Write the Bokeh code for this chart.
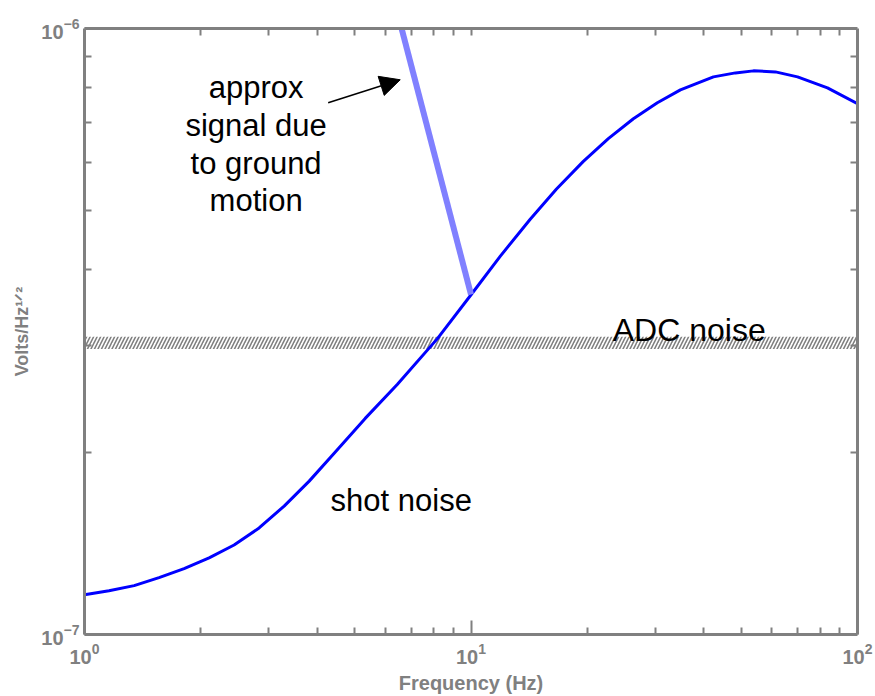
from bokeh.plotting import figure
from bokeh.models import (LogAxis, FixedTicker, LogTickFormatter, Label, Arrow,
                          NormalHead, Range1d)
from bokeh.embed import file_html
from bokeh.resources import INLINE

# ---------------- data ----------------
freq_hz = [1.0, 1.157, 1.344, 1.559, 1.810, 2.101, 2.438, 2.830, 3.285,
           3.814, 4.426, 5.324, 6.444, 8.177, 10.13, 11.91, 14.23, 16.62,
           19.53, 22.66, 26.31, 30.35, 34.82, 42.39, 48.32, 53.80, 61.34,
           69.95, 83.61, 100.0]
shot_noise = [1.163e-7, 1.181e-7, 1.204e-7, 1.241e-7, 1.284e-7, 1.338e-7,
              1.405e-7, 1.499e-7, 1.629e-7, 1.791e-7, 1.991e-7, 2.273e-7,
              2.585e-7, 3.075e-7, 3.674e-7, 4.211e-7, 4.844e-7, 5.428e-7,
              6.035e-7, 6.582e-7, 7.097e-7, 7.542e-7, 7.921e-7, 8.321e-7,
              8.448e-7, 8.513e-7, 8.480e-7, 8.321e-7, 7.981e-7, 7.513e-7]

ground_freq = [6.56, 10.0]
ground_signal = [1.02e-6, 3.64e-7]

adc_freq = [1.0, 100.0]
adc_low = [2.96e-7, 2.96e-7]
adc_high = [3.10e-7, 3.10e-7]

x_major = [1, 10, 100]
x_minor = [2, 3, 4, 5, 6, 7, 8, 9, 20, 30, 40, 50, 60, 70, 80, 90]
y_major = [1e-7, 1e-6]
y_minor = [2e-7, 3e-7, 4e-7, 5e-7, 6e-7, 7e-7, 8e-7, 9e-7]

GRAY = "#808080"
FONT = "Liberation Sans"

p = figure(width=875, height=696, x_axis_type="log", y_axis_type="log",
           x_range=Range1d(1, 100), y_range=Range1d(1e-7, 1e-6),
           output_backend="svg", toolbar_location=None,
           min_border_left=84, min_border_right=18, min_border_top=28,
           min_border_bottom=59)
p.xgrid.visible = False
p.ygrid.visible = False
p.outline_line_color = None
p.background_fill_color = "white"


def style_axis(ax):
    ax.axis_line_color = GRAY
    ax.axis_line_width = 3
    ax.major_tick_line_color = GRAY
    ax.major_tick_line_width = 2
    ax.minor_tick_line_color = GRAY
    ax.minor_tick_line_width = 2
    ax.major_tick_in = 14
    ax.major_tick_out = 0
    ax.minor_tick_in = 7
    ax.minor_tick_out = 0
    ax.major_label_text_font = FONT
    ax.major_label_text_font_style = "bold"
    ax.major_label_text_color = GRAY
    ax.major_label_text_font_size = "20px"


p.xaxis.ticker = FixedTicker(ticks=x_major, minor_ticks=x_minor)
p.yaxis.ticker = FixedTicker(ticks=y_major, minor_ticks=y_minor)
p.xaxis.formatter = LogTickFormatter()
p.yaxis.formatter = LogTickFormatter()
style_axis(p.xaxis[0])
style_axis(p.yaxis[0])
p.xaxis.major_label_standoff = 8
p.yaxis.major_label_standoff = 5

p.xaxis.axis_label = "Frequency (Hz)"
p.xaxis.axis_label_text_font = FONT
p.xaxis.axis_label_text_font_style = "bold"
p.xaxis.axis_label_text_font_size = "20px"
p.xaxis.axis_label_text_color = GRAY
p.xaxis.axis_label_standoff = 5

p.yaxis.axis_label = "Volts/Hz\u00b9\u141f\u00b2"
p.yaxis.axis_label_text_font = FONT
p.yaxis.axis_label_text_font_style = "bold"
p.yaxis.axis_label_text_font_size = "18px"
p.yaxis.axis_label_text_color = GRAY
p.yaxis.axis_label_standoff = 6

# box axes (ticks only, no labels)
top_ax = LogAxis(ticker=FixedTicker(ticks=[], minor_ticks=x_minor + [10]))
right_ax = LogAxis(ticker=FixedTicker(ticks=[], minor_ticks=y_minor))
style_axis(top_ax)
style_axis(right_ax)
p.add_layout(top_ax, "above")
p.add_layout(right_ax, "right")

# ADC noise band (hatched)
p.varea(x=adc_freq, y1=adc_low, y2=adc_high, fill_alpha=0,
        hatch_pattern="/", hatch_color=GRAY, hatch_scale=7, hatch_weight=1.6)

# shot noise curve
p.line(freq_hz, shot_noise, line_color="#0000ff", line_width=3,
       line_join="round")

# approximate ground-motion signal
p.line(ground_freq, ground_signal, line_color="#8080ff", line_width=6)

# annotations
p.add_layout(Label(x=36.7, y=3.18e-7, text="ADC noise", text_font=FONT,
                   text_font_size="32px", text_color="black",
                   text_align="center", text_baseline="alphabetic"))
p.add_layout(Label(x=6.6, y=1.667e-7, text="shot noise", text_font=FONT,
                   text_font_size="31px", text_color="black",
                   text_align="center", text_baseline="alphabetic"))
p.add_layout(Label(x=2.78, y=8.544e-7,
                   text="approx\nsignal due\nto ground\nmotion",
                   text_font=FONT, text_font_size="31px", text_color="black",
                   text_align="center", text_baseline="top",
                   text_line_height=1.08))

p.add_layout(Arrow(end=NormalHead(size=20, fill_color="black",
                                  line_color="black"),
                   x_start=4.27, y_start=7.54e-7, x_end=6.56, y_end=8.23e-7,
                   line_color="black", line_width=1.5))

open("out.html", "w").write(file_html(p, INLINE))
